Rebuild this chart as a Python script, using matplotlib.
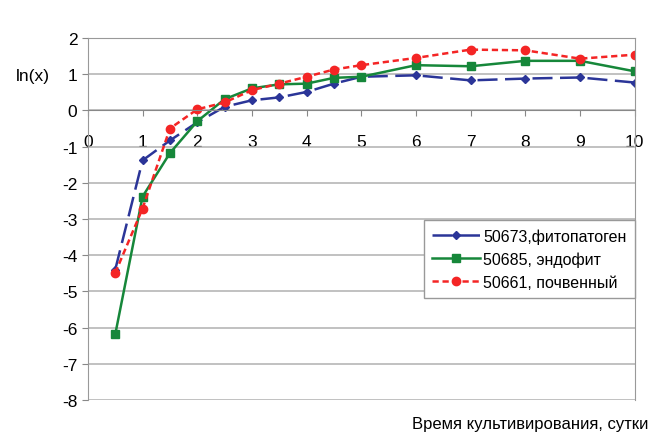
import numpy as np
import matplotlib.pyplot as plt

plt.rcParams['font.family'] = ['Liberation Sans', 'DejaVu Sans']
plt.rcParams['axes.unicode_minus'] = False

# days of cultivation
days = [0.5, 1, 1.5, 2, 2.5, 3, 3.5, 4, 4.5, 5, 6, 7, 8, 9, 10]
# ln(x) for each strain
s50673 = [-4.40, -1.38, -0.83, -0.33, 0.10, 0.28, 0.36, 0.51, 0.74, 0.93, 0.97, 0.83, 0.88, 0.91, 0.77]
s50685 = [-6.19, -2.38, -1.18, -0.30, 0.31, 0.61, 0.72, 0.74, 0.90, 0.93, 1.25, 1.22, 1.37, 1.37, 1.08]
s50661 = [-4.49, -2.71, -0.50, 0.03, 0.22, 0.56, 0.74, 0.93, 1.13, 1.25, 1.45, 1.68, 1.66, 1.43, 1.54]
labels = ["50673,фитопатоген", "50685, эндофит", "50661, почвенный"]

fig = plt.figure(figsize=(6.51, 4.39), dpi=100)
ax = fig.add_axes([0.135, 0.0866, 0.84, 0.8245])

ax.plot(days, s50673, color='#2b3598', lw=1.8, dashes=(8, 3), marker='D', ms=4, label=labels[0])
ax.plot(days, s50685, color='#16873a', lw=1.8, marker='s', ms=6, label=labels[1])
ax.plot(days, s50661, color='#f42525', lw=1.8, dashes=(2.5, 1.5), marker='o', ms=6, label=labels[2])

ax.set_xlim(0, 10)
ax.set_ylim(-8, 2)
ax.set_yticks(range(-8, 3))
ax.set_xticks(range(0, 11))
ax.grid(axis='y', color='#b0b0b0', lw=1.1)
ax.set_axisbelow(True)

ax.spines['bottom'].set_position(('data', 0))
ax.spines['bottom'].set_color('#888888')
for s in ['left', 'right', 'top']:
    ax.spines[s].set_color('#999999')
ax.tick_params(axis='x', direction='out', length=4, pad=13, labelsize=12.5, color='#888888')
ax.tick_params(axis='y', direction='out', length=4, labelsize=12.5, color='#888888')

leg = ax.legend(loc='upper right', bbox_to_anchor=(1.0, 0.497), fancybox=False,
                edgecolor='#999999', framealpha=1, fontsize=11.5, handlelength=3.0,
                borderaxespad=0, labelspacing=0.5, handletextpad=0.2, borderpad=0.5)
leg.get_frame().set_linewidth(1)

fig.text(33 / 651, 1 - 76 / 439, "ln(x)", ha='center', va='center', fontsize=12.5)
fig.text(648 / 651, 1 - 425 / 439, "Время культивирования, сутки", ha='right', va='center', fontsize=12)

fig.savefig('out.png', dpi=100)
